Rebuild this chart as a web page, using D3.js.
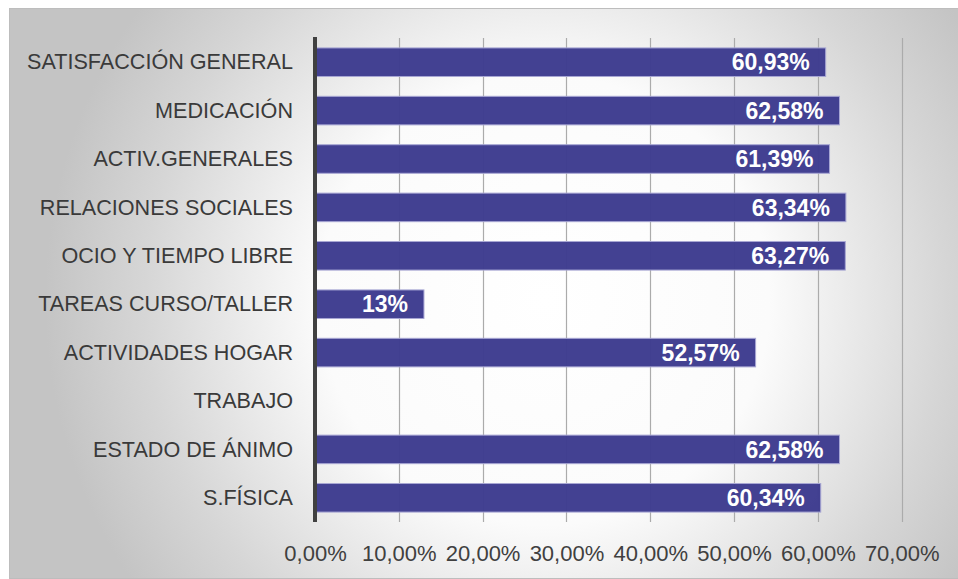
<!DOCTYPE html>
<html>
<head>
<meta charset="utf-8">
<script src="https://cdn.jsdelivr.net/npm/d3@7"></script>
<style>
  body { margin: 0; background: #fff; }
  svg { display: block; }
  .cat-label { font-family: "Liberation Sans", Arial, sans-serif; font-size: 21.6px; fill: #3a3a3a; }
  .tick-label { font-family: "Liberation Sans", Arial, sans-serif; font-size: 22px; fill: #404040; }
  .value-label { font-family: "Liberation Sans", Arial, sans-serif; font-size: 23px; font-weight: bold; fill: #fff; }
</style>
</head>
<body>
<div id="chart"></div>
<script>

// data

const categories = [
  "SATISFACCIÓN GENERAL",
  "MEDICACIÓN",
  "ACTIV.GENERALES",
  "RELACIONES SOCIALES",
  "OCIO Y TIEMPO LIBRE",
  "TAREAS CURSO/TALLER",
  "ACTIVIDADES HOGAR",
  "TRABAJO",
  "ESTADO DE ÁNIMO",
  "S.FÍSICA"
]

const values = [60.93, 62.58, 61.39, 63.34, 63.27, 13, 52.57, null, 62.58, 60.34]

const xTicks = [0, 10, 20, 30, 40, 50, 60, 70]

const dataset = categories.map((c, i) => ({ cat: c, value: values[i] }))

const xAccessor = d => d.value
const yAccessor = d => d.cat

const fmtValue = v => Number.isInteger(v) ? v + "%" : v.toFixed(2).replace(".", ",") + "%"
const fmtTick = v => v.toFixed(2).replace(".", ",") + "%"


// draw canvas

let dimensions = {
  width: 958,
  height: 579,
  plotLeft: 315,
  plotRight: 901.7,
  plotTop: 38,
  plotBottom: 522,
}

const wrapper = d3.select("#chart")
  .append("svg")
    .attr("width", dimensions.width)
    .attr("height", dimensions.height)

const defs = wrapper.append("defs")
const grad = defs.append("radialGradient")
    .attr("id", "bg")
    .attr("gradientUnits", "userSpaceOnUse")
    .attr("cx", 545)
    .attr("cy", 300)
    .attr("r", 500)
grad.append("stop").attr("offset", "0").attr("stop-color", "#ffffff")
grad.append("stop").attr("offset", "0.45").attr("stop-color", "#fbfbfb")
grad.append("stop").attr("offset", "0.8").attr("stop-color", "#d6d6d6")
grad.append("stop").attr("offset", "1").attr("stop-color", "#c4c4c4")

wrapper.append("rect")
    .attr("x", 9.5)
    .attr("y", 8.5)
    .attr("width", 960)
    .attr("height", 570)
    .attr("fill", "url(#bg)")
    .attr("stroke", "#bdbdbd")
    .attr("stroke-width", 1)


// scales

const xScale = d3.scaleLinear()
    .domain([0, 70])
    .range([dimensions.plotLeft, dimensions.plotRight])

const yScale = d3.scaleBand()
    .domain(categories)
    .range([dimensions.plotTop, dimensions.plotBottom])
    .paddingInner(0.41)
    .paddingOuter(0.205)


// gridlines

wrapper.append("g")
  .selectAll("line")
  .data(xTicks.filter(t => t > 0))
  .enter().append("line")
    .attr("x1", d => Math.round(xScale(d)) + 0.5)
    .attr("x2", d => Math.round(xScale(d)) + 0.5)
    .attr("y1", dimensions.plotTop)
    .attr("y2", dimensions.plotBottom)
    .attr("stroke", "#ababab")
    .attr("stroke-width", 1.2)


// bars

const bars = wrapper.append("g")
  .selectAll("rect")
  .data(dataset.filter(d => d.value != null))
  .enter().append("rect")
    .attr("x", xScale(0))
    .attr("y", d => yScale(yAccessor(d)))
    .attr("width", d => xScale(xAccessor(d)) - xScale(0))
    .attr("height", yScale.bandwidth())
    .attr("fill", "#3d3b8e")
    .attr("fill-opacity", 0.97)
    .attr("stroke", "#a8a7d4")
    .attr("stroke-width", 1)

const valueLabels = wrapper.append("g")
  .selectAll("text")
  .data(dataset.filter(d => d.value != null))
  .enter().append("text")
    .attr("class", "value-label")
    .attr("x", d => xScale(xAccessor(d)) - 16)
    .attr("y", d => yScale(yAccessor(d)) + yScale.bandwidth() / 2)
    .attr("dy", "0.36em")
    .attr("text-anchor", "end")
    .text(d => fmtValue(xAccessor(d)))


// axes

const yAxisGenerator = d3.axisLeft(yScale).tickSize(0).tickPadding(22)
const yAxis = wrapper.append("g")
    .attr("transform", `translate(${dimensions.plotLeft}, 0)`)
    .call(yAxisGenerator)
yAxis.select(".domain").remove()
yAxis.selectAll("text")
    .attr("class", "cat-label")
    .attr("font-family", null)
    .attr("font-size", null)
    .attr("fill", null)
    .attr("dy", "0.33em")

wrapper.append("line")
    .attr("x1", dimensions.plotLeft)
    .attr("x2", dimensions.plotLeft)
    .attr("y1", dimensions.plotTop - 1)
    .attr("y2", dimensions.plotBottom)
    .attr("stroke", "#404040")
    .attr("stroke-width", 4)

const xAxisGenerator = d3.axisBottom(xScale)
    .tickValues(xTicks)
    .tickFormat(fmtTick)
    .tickSize(0)
    .tickPadding(0)
const xAxis = wrapper.append("g")
    .attr("transform", `translate(0, ${dimensions.plotBottom})`)
    .call(xAxisGenerator)
xAxis.select(".domain").remove()
xAxis.selectAll("text")
    .attr("class", "tick-label")
    .attr("font-family", null)
    .attr("font-size", null)
    .attr("fill", null)
    .attr("y", 31)
    .attr("dy", "0.36em")

</script>
</body>
</html>
